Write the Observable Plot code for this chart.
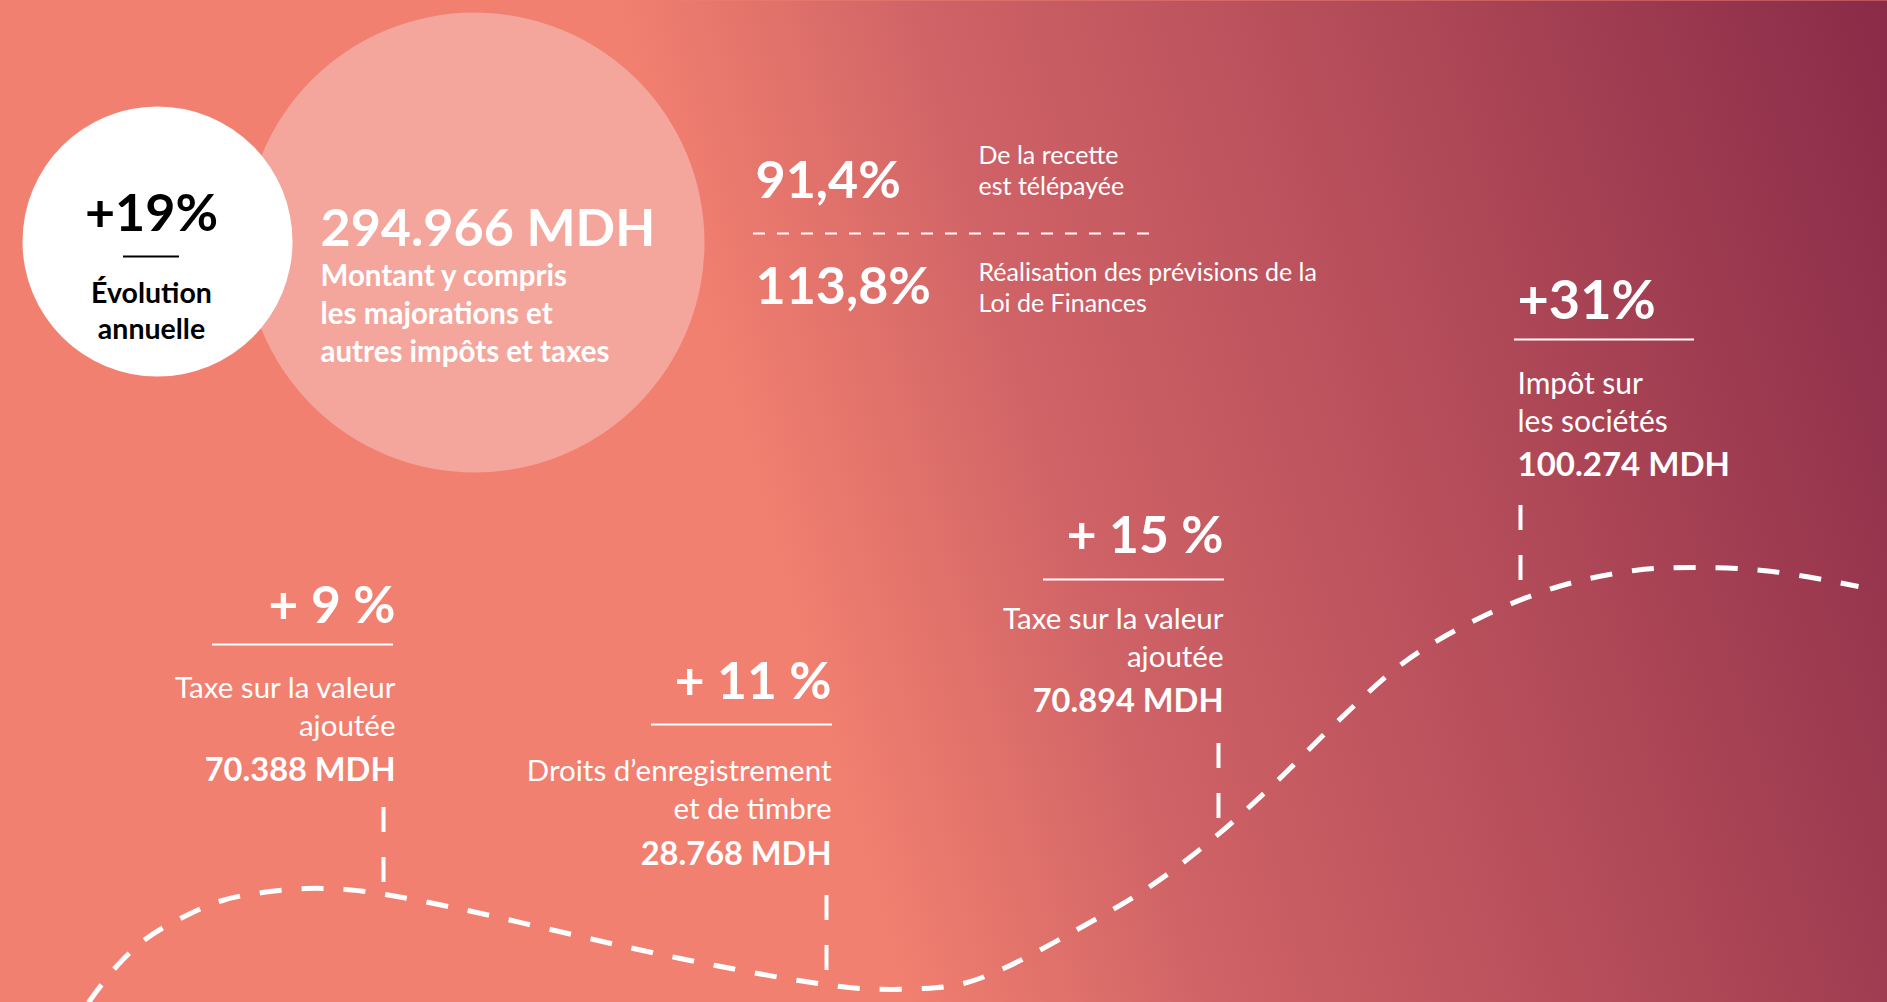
<!DOCTYPE html>
<html>
<head>
<meta charset="utf-8">
<script src="https://cdn.jsdelivr.net/npm/d3@7"></script>
<script src="https://cdn.jsdelivr.net/npm/@observablehq/plot@0.6"></script>
<style>
  html, body { margin: 0; padding: 0; overflow: hidden; background: #F07E6E; }
  #chart svg { display: block; }
</style>
</head>
<body>
<div id="chart"></div>
<script>
// ---------------- DATA ----------------
const annualGrowth = "+19%";
const annualGrowthLabel = ["Évolution", "annuelle"];
const totalAmount = 294966;
const totalNote = ["Montant y compris", "les majorations et", "autres impôts et taxes"];
const kpiValues = ["91,4%", "113,8%"];
const kpiLabels = [["De la recette", "est télépayée"], ["Réalisation des prévisions de la", "Loi de Finances"]];
const taxNames = [
  ["Taxe sur la valeur", "ajoutée"],
  ["Droits d’enregistrement", "et de timbre"],
  ["Taxe sur la valeur", "ajoutée"],
  ["Impôt sur", "les sociétés"]
];
const taxAmounts = [70388, 28768, 70894, 100274];
const taxGrowth = ["+ 9 %", "+ 11 %", "+ 15 %", "+31%"];
// decorative dashed wave (pixel units)
const curveX = [88, 115, 146, 182, 222, 262, 305, 345, 385, 467, 550, 633, 715, 798, 860, 923, 963, 1003, 1075, 1148, 1214, 1275, 1336, 1402, 1474, 1555, 1634, 1697, 1772, 1858];
const curveY = [1002, 967, 938, 917, 900, 892, 888, 889, 894, 910, 929, 948, 965, 980, 988, 988, 983, 968, 930, 887, 837, 782, 722, 663, 620, 587, 570, 567, 571, 586];

// ---------------- LAYOUT ----------------
const W = 1887, H = 1002;
const FONT = "Lato, Carlito, Calibri, 'Open Sans', sans-serif";
const WHITE = "#FFFFFF";
const mdh = v => v.toLocaleString("de-DE") + " MDH";

const groupLayout = [
  {x: 395, anchor: "end", top: 622, rx1: 212, rx2: 393, ry: 644, name: 697, amount: 780, stemX: 383, s1: 807, s2: 882},
  {x: 831, anchor: "end", top: 698, rx1: 651, rx2: 832, ry: 724, name: 780, amount: 864, stemX: 826, s1: 895, s2: 971},
  {x: 1223, anchor: "end", top: 552, rx1: 1043, rx2: 1224, ry: 579, name: 628, amount: 711, stemX: 1218, s1: 743, s2: 818},
  {x: 1517, anchor: "start", top: 318, rx1: 1514, rx2: 1694, ry: 339, name: 393, amount: 475, stemX: 1520, s1: 505, s2: 580}
];
const NAME_STEP = 38.5;

const groups = taxAmounts.map((v, i) => ({...groupLayout[i], growth: taxGrowth[i], amountText: mdh(v)}));
const nameRows = taxNames.flatMap((lines, i) => lines.map((t, j) => ({
  text: t, x: groupLayout[i].x, y: groupLayout[i].name + j * NAME_STEP, anchor: groupLayout[i].anchor
})));
const curve = curveX.map((x, i) => ({x, y: curveY[i]}));

const noteRows = totalNote.map((t, j) => ({text: t, y: 285 + j * 38}));
const kpiRows = kpiValues.map((t, i) => ({text: t, y: [197, 303][i]}));
const kpiLabelRows = kpiLabels.flatMap((lines, i) => lines.map((t, j) => ({text: t, y: [163, 280][i] + j * 31})));
const circleRows = annualGrowthLabel.map((t, j) => ({text: t, y: 302 + j * 36}));

// gradient background defs
const defsMark = () => {
  const defs = d3.create("svg:defs");
  const g = defs.append("linearGradient")
    .attr("id", "bg").attr("gradientUnits", "userSpaceOnUse")
    .attr("x1", 610).attr("y1", 0).attr("x2", 1785).attr("y2", -340);
  [[0, "#F28070"], [0.12, "#E1726B"], [0.25, "#CF6266"], [0.6, "#B14A58"], [1, "#8A2B48"]]
    .forEach(([o, c]) => g.append("stop").attr("offset", o).attr("stop-color", c));
  return defs.node();
};

// text helpers: one mark per anchor (textAnchor is a constant option)
const groupText = (anchor, field, opts) =>
  Plot.text(groups.filter(d => d.anchor === anchor), {x: "x", y: opts.y, text: field, fill: WHITE, textAnchor: anchor, lineAnchor: "bottom", fontSize: opts.fontSize, fontWeight: opts.fontWeight});
const nameText = (anchor) =>
  Plot.text(nameRows.filter(d => d.anchor === anchor), {x: "x", y: "y", text: "text", fill: WHITE, textAnchor: anchor, lineAnchor: "bottom", fontSize: anchor === "end" ? 29.5 : 30, fontWeight: 400});

const chart = Plot.plot({
  width: W, height: H,
  margin: 0,
  x: {domain: [0, W], range: [0, W], axis: null},
  y: {domain: [0, H], range: [0, H], axis: null},
  style: {background: "transparent", fontFamily: FONT, overflow: "visible"},
  marks: [
    defsMark,
    Plot.frame({fill: "url(#bg)", stroke: null}),
    // circles
    Plot.dot([{x: 474, y: 242}], {x: "x", y: "y", r: 230, fill: "#F4A69D", stroke: "none"}),
    Plot.dot([{x: 157, y: 241}], {x: "x", y: "y", r: 135, fill: WHITE, stroke: "none"}),
    // annual growth (white circle)
    Plot.text([annualGrowth], {x: () => 151, y: () => 230, text: d => d, fill: "#000", fontSize: 52, fontWeight: 700, textAnchor: "middle", lineAnchor: "bottom"}),
    Plot.ruleY([256], {y: d => d, x1: 123, x2: 179, stroke: "#000", strokeWidth: 2}),
    Plot.text(circleRows, {x: () => 151, y: "y", text: "text", fill: "#000", fontSize: 28.5, fontWeight: 700, textAnchor: "middle", lineAnchor: "bottom"}),
    // total (pink circle)
    Plot.text([mdh(totalAmount)], {x: () => 320, y: () => 245, text: d => d, fill: WHITE, fontSize: 52, fontWeight: 700, textAnchor: "start", lineAnchor: "bottom"}),
    Plot.text(noteRows, {x: () => 320, y: "y", text: "text", fill: WHITE, fontSize: 29.5, fontWeight: 700, textAnchor: "start", lineAnchor: "bottom"}),
    // KPIs
    Plot.text(kpiRows, {x: () => 755, y: "y", text: "text", fill: WHITE, fontSize: 52, fontWeight: 700, textAnchor: "start", lineAnchor: "bottom"}),
    Plot.text(kpiLabelRows, {x: () => 978, y: "y", text: "text", fill: WHITE, fontSize: 25, fontWeight: 400, textAnchor: "start", lineAnchor: "bottom"}),
    Plot.ruleY([233], {y: d => d, x1: 753, x2: 1152, stroke: WHITE, strokeWidth: 2, strokeDasharray: "12,12"}),
    // dashed wave
    Plot.line(curve, {x: "x", y: "y", curve: "catmull-rom", stroke: WHITE, strokeWidth: 5, strokeDasharray: "22,20", strokeLinecap: "butt"}),
    // tax groups
    Plot.ruleX(groups, {x: "stemX", y1: "s1", y2: "s2", stroke: WHITE, strokeWidth: 4, strokeDasharray: "25,25", strokeLinecap: "butt"}),
    Plot.ruleY(groups, {y: "ry", x1: "rx1", x2: "rx2", stroke: WHITE, strokeWidth: 2}),
    groupText("end", "growth", {y: "top", fontSize: 51.5, fontWeight: 700}),
    groupText("start", "growth", {y: "top", fontSize: 54, fontWeight: 700}),
    nameText("end"),
    nameText("start"),
    groupText("end", "amountText", {y: "amount", fontSize: 32.6, fontWeight: 700}),
    groupText("start", "amountText", {y: "amount", fontSize: 33, fontWeight: 700})
  ]
});
document.getElementById("chart").appendChild(chart);
</script>
</body>
</html>
